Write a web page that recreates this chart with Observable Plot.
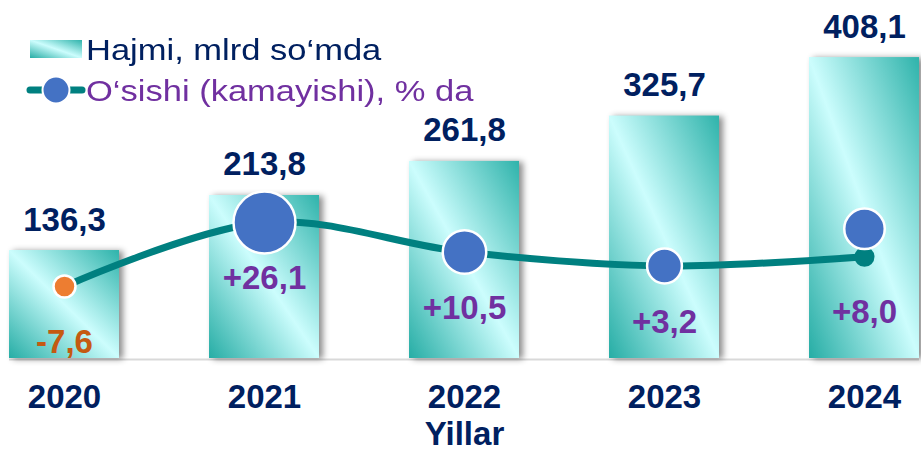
<!DOCTYPE html>
<html>
<head>
<meta charset="utf-8">
<script src="https://cdn.jsdelivr.net/npm/d3@7"></script>
<script src="https://cdn.jsdelivr.net/npm/@observablehq/plot@0.6"></script>
<style>
  html, body { margin: 0; padding: 0; background: #fff; }
  #wrap { position: relative; width: 921px; height: 451px; overflow: hidden;
          font-family: "Liberation Sans", Arial, sans-serif; }
  #chart { position: absolute; left: 0; top: 0; }
  .leg-text { position: absolute; left: 86px; font-size: 29px; line-height: 29px; white-space: nowrap;
              transform: scaleX(1.19); transform-origin: 0 50%; }
</style>
</head>
<body>
<div id="wrap">
  <div id="chart"></div>
  <svg id="legsvg" width="100" height="115" style="position:absolute;left:0;top:0">
    <defs>
      <linearGradient id="legGrad" x1="0" y1="1" x2="1" y2="0">
        <stop offset="0" stop-color="#26ada5"/>
        <stop offset="0.5" stop-color="#ccfdfd"/>
        <stop offset="1" stop-color="#2fb3ab"/>
      </linearGradient>
    </defs>
    <rect x="30" y="40" width="52" height="18" fill="url(#legGrad)"/>
    <line x1="30" y1="90" x2="82" y2="90" stroke="#008080" stroke-width="7" stroke-linecap="round"/>
    <circle cx="56" cy="90" r="13.5" fill="#4472C4" stroke="#fff" stroke-width="2"/>
  </svg>
  <div class="leg-text" id="leg1" style="top:36px;color:#002060"></div>
  <div class="leg-text" id="leg2" style="top:77px;color:#7030A0"></div>
</div>
<script>
// ---- data ----
const years  = ["2020", "2021", "2022", "2023", "2024"];
const volume = [136.3, 213.8, 261.8, 325.7, 408.1];   // Hajmi, mlrd so‘mda
const growth = [-7.6, 26.1, 10.5, 3.2, 8.0];          // O‘sishi (kamayishi), % da
const volumeLabel = "Hajmi, mlrd so‘mda";
const growthLabel = "O‘sishi (kamayishi), % da";
const xAxisLabel  = "Yillar";

// ---- scale configuration (dual axis, hidden) ----
const yVolume = [-15.8, 460.3];
const yGrowth = [-45.5, 132.4];
const g2v = d3.scaleLinear(yGrowth, yVolume);

const data = years.map((year, i) => ({
  year, volume: volume[i], growth: growth[i], last: i === years.length - 1
}));

const fmt = v => v.toFixed(1).replace(".", ",");
const fmtSigned = v => (v > 0 ? "+" : "") + fmt(v);

const navy = "#002060", purple = "#7030A0", orangeText = "#C55A11";
const teal = "#008080", blue = "#4472C4", orange = "#ED7D31";

document.getElementById("leg1").textContent = volumeLabel;
document.getElementById("leg2").textContent = growthLabel;

const defs = () => {
  const d = d3.create("svg:defs");
  const g = d.append("linearGradient").attr("id", "barGrad")
    .attr("x1", 0).attr("y1", 1).attr("x2", 1).attr("y2", 0);
  g.append("stop").attr("offset", 0).attr("stop-color", "#26ada5");
  g.append("stop").attr("offset", 0.5).attr("stop-color", "#ccfdfd");
  g.append("stop").attr("offset", 1).attr("stop-color", "#2fb3ab");
  return d.node();
};

const bold = {fontSize: 33, fontWeight: "bold", fontFamily: "Liberation Sans, Arial, sans-serif"};

const chart = Plot.plot({
  width: 921,
  height: 451,
  marginTop: 20,
  marginBottom: 93,
  marginLeft: 9,
  marginRight: 2,
  style: {fontFamily: "Liberation Sans, Arial, sans-serif", color: navy, background: "transparent"},
  x: {domain: years, paddingInner: 0.45, paddingOuter: 0, axis: null},
  y: {domain: yVolume, axis: null},
  r: {type: "linear", domain: d3.extent(growth), range: [11, 31]},
  color: {type: "identity"},
  marks: [
    defs,
    Plot.ruleY([yVolume[0]], {stroke: "#d9d9d9", strokeWidth: 2, dy: 1}),
    Plot.barY(data, {
      x: "year", y1: yVolume[0], y2: "volume",
      fill: "url(#barGrad)",
      imageFilter: "drop-shadow(4px 1px 3px rgba(0,0,0,0.45))"
    }),
    Plot.text(data, {
      x: "year", y: "volume", text: d => fmt(d.volume),
      lineAnchor: "bottom", dy: -20, fill: navy, ...bold
    }),
    Plot.line(data, {
      x: "year", y: d => g2v(d.growth), curve: "catmull-rom",
      stroke: teal, strokeWidth: 7
    }),
    Plot.dot(data, {x: "year", y: d => g2v(d.growth), r: 10, fill: teal}),
    Plot.dot(data, {
      filter: d => !d.last,
      x: "year", y: d => g2v(d.growth), r: "growth",
      fill: d => d.growth < 0 ? orange : blue,
      stroke: "#fff", strokeWidth: 2.5
    }),
    Plot.dot(data, {
      filter: d => d.last,
      x: "year", y: d => g2v(d.growth), r: "growth", dy: -28,
      fill: d => d.growth < 0 ? orange : blue,
      stroke: "#fff", strokeWidth: 2.5
    }),
    Plot.text(data, {
      x: "year", y: d => g2v(d.growth), text: d => fmtSigned(d.growth),
      dy: 56, fill: d => d.growth < 0 ? orangeText : purple, ...bold
    }),
    Plot.axisX({
      tickSize: 0, tickPadding: 26, ...bold, color: navy,
      label: xAxisLabel, labelAnchor: "center", labelOffset: 86
    })
  ]
});

document.getElementById("chart").appendChild(chart);
</script>
</body>
</html>
